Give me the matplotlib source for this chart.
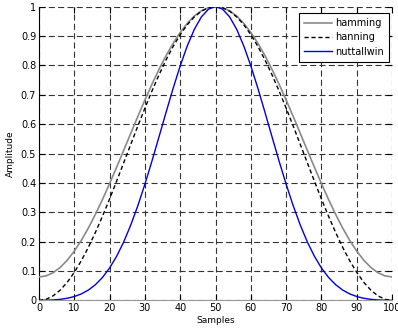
import matplotlib
matplotlib.use("Agg")
import matplotlib.pyplot as plt

# Sample positions (every 2 samples, 0..100)
samples = list(range(0, 101, 2))

# Half-window values (0..50), mirrored for the right half
hamming_half = [0.0800, 0.0836, 0.0945, 0.1123, 0.1369, 0.1679, 0.2047, 0.2468,
                0.2935, 0.3441, 0.3978, 0.4538, 0.5111, 0.5689, 0.6262, 0.6822,
                0.7359, 0.7865, 0.8332, 0.8753, 0.9122, 0.9431, 0.9677, 0.9855,
                0.9964, 1.0000]
hanning_half = [0.0000, 0.0039, 0.0157, 0.0351, 0.0618, 0.0955, 0.1355, 0.1813,
                0.2321, 0.2871, 0.3455, 0.4063, 0.4686, 0.5314, 0.5937, 0.6545,
                0.7129, 0.7679, 0.8187, 0.8645, 0.9045, 0.9382, 0.9649, 0.9843,
                0.9961, 1.0000]
nuttall_half = [0.0004, 0.0007, 0.0017, 0.0038, 0.0074, 0.0133, 0.0223, 0.0355,
                0.0539, 0.0785, 0.1105, 0.1506, 0.1993, 0.2568, 0.3225, 0.3956,
                0.4745, 0.5570, 0.6405, 0.7220, 0.7983, 0.8661, 0.9225, 0.9648,
                0.9911, 1.0000]

hamming = hamming_half + hamming_half[-2::-1]
hanning = hanning_half + hanning_half[-2::-1]
nuttallwin = nuttall_half + nuttall_half[-2::-1]

labels = ["hamming", "hanning", "nuttallwin"]
xticks = list(range(0, 101, 10))
yticks = [0, 0.1, 0.2, 0.3, 0.4, 0.5, 0.6, 0.7, 0.8, 0.9, 1]
yticklabels = ["0", "0.1", "0.2", "0.3", "0.4", "0.5", "0.6", "0.7", "0.8", "0.9", "1"]

plt.rcParams['font.family'] = ['DejaVu Sans']
fig = plt.figure(figsize=(3.98, 3.28), dpi=100)
ax = fig.add_axes([0.098, 0.084, 0.887, 0.896])

ax.plot(samples, hamming, color="#8a8a8a", lw=1.2, label=labels[0], zorder=3)
ax.plot(samples, hanning, color="black", lw=1.0, ls=(0, (3, 2)), label=labels[1], zorder=3)
ax.plot(samples, nuttallwin, color="#0000dd", lw=1.0, label=labels[2], zorder=3)

ax.set_xlim(0, 100)
ax.set_ylim(0, 1)
ax.set_xticks(xticks)
ax.set_xticklabels([str(v) for v in xticks])
ax.set_yticks(yticks)
ax.set_yticklabels(yticklabels)
ax.tick_params(direction="in", length=4, width=0.8, top=True, right=True,
               labelsize=7, pad=2, color="black")
ax.grid(True, color="#333333", ls=(0, (5.4, 3)), lw=0.8)
for s in ["top", "right"]:
    ax.spines[s].set_visible(False)
ax.spines["bottom"].set_color("#999999")
ax.spines["left"].set_color("black")
ax.spines["left"].set_linewidth(0.8)

ax.set_xlabel("Samples", fontsize=6.5, labelpad=2)
ax.set_ylabel("Amplitude", fontsize=6.5, labelpad=4)

leg = ax.legend(loc="upper right", bbox_to_anchor=(0.9915, 0.9795), fontsize=7,
                fancybox=False, framealpha=1, edgecolor="black", handlelength=2.8,
                borderpad=0.55, labelspacing=0.45, handletextpad=0.35,
                borderaxespad=0)
leg.get_frame().set_linewidth(0.8)

fig.savefig("out.png", dpi=100)
